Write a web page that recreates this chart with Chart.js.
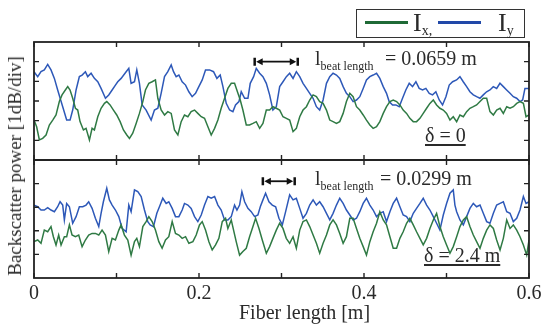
<!DOCTYPE html>
<html>
<head>
<meta charset="utf-8">
<script src="https://cdn.jsdelivr.net/npm/chart.js@4.4.0/dist/chart.umd.min.js"></script>
<style>
  body { margin: 0; background: #fff; }
  #wrap { position: relative; width: 543px; height: 324px; font-family: "Liberation Serif", "Times New Roman", serif; color: #2a2a2a; }
  canvas { position: absolute; left: 0; top: 0; }
  .t { position: absolute; font-size: 20px; line-height: 20px; white-space: nowrap; }
  .sub { font-size: 12px; position: relative; top: 5px; }
  .u { text-decoration: underline; text-underline-offset: 2px; }
  .leg { position: absolute; font-size: 26px; line-height: 26px; white-space: nowrap; }
  .leg .s { font-size: 14px; position: relative; top: 4px; }
  .swatch { position: absolute; height: 3px; width: 43px; }
</style>
</head>
<body>
<div id="wrap">
  <canvas id="topChart" width="543" height="324"></canvas>
  <canvas id="botChart" width="543" height="324"></canvas>

  <div class="t" style="left:15px; top:166px; font-size:19px; transform: translate(-50%,-50%) rotate(-90deg);">Backscatter power [1dB/div]</div>
  <div class="t" style="left:239px; top:302px;">Fiber length [m]</div>

  <div style="position:absolute; left:356px; top:9px; width:169px; height:29px; border:1px solid #333; box-sizing:border-box;"></div>
  <div class="swatch" style="left:365px; top:21px; background:#1f6a36;"></div>
  <div class="leg" style="left:413px; top:10px;">I<span class="s">x,</span></div>
  <div class="swatch" style="left:438px; top:21px; background:#2148a8;"></div>
  <div class="leg" style="left:498px; top:10px;">I<span class="s">y</span></div>

  <div class="t" style="left:315px; top:48px;">l<span class="sub">beat length</span></div>
  <div class="t" style="left:385px; top:48px;">= 0.0659 m</div>
  <div class="t u" style="left:425px; top:125px;">δ = 0</div>

  <div class="t" style="left:315px; top:168px;">l<span class="sub">beat length</span></div>
  <div class="t" style="left:380px; top:168px;">= 0.0299 m</div>
  <div class="t u" style="left:424px; top:245px;">δ = 2.4 m</div>
</div>

<script>
// fiber position [m], backscatter power [div]
const topBlue = [[0.000,4.49],[0.0045,4.24],[0.0085,4.49],[0.0125,4.58],[0.0166,4.86],[0.0206,4.58],[0.0247,4.15],[0.0287,3.56],[0.0348,2.71],[0.0396,2.03],[0.0437,2.03],[0.0469,2.54],[0.0510,3.56],[0.0550,4.24],[0.0583,4.32],[0.0623,4.49],[0.0651,4.24],[0.0692,4.41],[0.0732,4.15],[0.0773,3.98],[0.0813,3.64],[0.0866,3.14],[0.0906,3.31],[0.0947,3.56],[0.0987,3.81],[0.1015,3.98],[0.1056,4.15],[0.1117,4.49],[0.1149,4.66],[0.1177,3.90],[0.1218,3.98],[0.1246,4.58],[0.1278,3.90],[0.1311,2.80],[0.1359,2.54],[0.1420,2.03],[0.1460,2.54],[0.1501,2.63],[0.1541,3.39],[0.1582,4.24],[0.1622,4.49],[0.1663,4.83],[0.1691,4.49],[0.1723,4.24],[0.1756,4.32],[0.1796,3.98],[0.1837,3.81],[0.1877,3.47],[0.1917,3.22],[0.1958,3.39],[0.1998,3.73],[0.2039,4.07],[0.2079,4.58],[0.2128,4.58],[0.2176,4.49],[0.2217,4.15],[0.2257,4.32],[0.2290,3.73],[0.2330,2.88],[0.2371,2.54],[0.2411,2.46],[0.2443,2.80],[0.2484,2.97],[0.2512,3.47],[0.2553,3.14],[0.2593,3.14],[0.2621,3.90],[0.2662,4.24],[0.2694,4.66],[0.2735,4.41],[0.2775,4.24],[0.2816,3.90],[0.2856,3.31],[0.2896,2.54],[0.2937,2.71],[0.2978,3.73],[0.3018,3.98],[0.3059,4.24],[0.3099,4.41],[0.3140,4.15],[0.3180,4.49],[0.3221,4.24],[0.3261,3.90],[0.3302,3.64],[0.3342,3.39],[0.3383,3.14],[0.3423,2.71],[0.3463,2.54],[0.3504,3.05],[0.3545,3.90],[0.3585,4.24],[0.3625,4.41],[0.3666,4.32],[0.3706,4.15],[0.3747,3.73],[0.3787,3.39],[0.3828,3.22],[0.3868,2.97],[0.3909,3.05],[0.3949,3.22],[0.3990,3.64],[0.4030,4.07],[0.4071,4.24],[0.4111,4.32],[0.4152,4.41],[0.4192,4.15],[0.4233,3.73],[0.4273,3.39],[0.4305,2.97],[0.4346,2.80],[0.4386,2.80],[0.4427,2.71],[0.4467,3.14],[0.4507,3.56],[0.4548,3.90],[0.4588,3.73],[0.4629,3.98],[0.4669,3.64],[0.4710,3.56],[0.4750,3.64],[0.4791,3.39],[0.4831,3.31],[0.4871,3.47],[0.4912,3.05],[0.4952,2.80],[0.4993,3.22],[0.5033,3.81],[0.5074,3.98],[0.5122,4.07],[0.5163,4.24],[0.5203,3.98],[0.5244,3.73],[0.5284,3.47],[0.5325,3.31],[0.5365,3.22],[0.5405,3.14],[0.5446,3.31],[0.5486,3.47],[0.5527,3.56],[0.5567,3.73],[0.5608,3.64],[0.5648,3.90],[0.5689,3.73],[0.5729,3.56],[0.5770,3.39],[0.5810,3.22],[0.5850,3.14],[0.5891,2.97],[0.5923,3.05],[0.5951,3.64],[0.6000,3.64]];

const topGreen = [[0.000,2.03],[0.0032,1.69],[0.0065,1.02],[0.0105,1.10],[0.0146,1.27],[0.0186,1.78],[0.0227,2.03],[0.0267,2.29],[0.0307,2.97],[0.0340,3.31],[0.0380,3.56],[0.0409,3.73],[0.0437,3.56],[0.0469,3.14],[0.0502,2.63],[0.0530,2.54],[0.0558,1.95],[0.0599,1.53],[0.0631,1.61],[0.0672,1.02],[0.0704,1.61],[0.0732,1.53],[0.0773,2.20],[0.0813,2.63],[0.0854,2.88],[0.0882,2.97],[0.0922,2.80],[0.0963,2.54],[0.1003,2.29],[0.1044,1.95],[0.1084,1.53],[0.1125,1.27],[0.1157,1.10],[0.1197,1.36],[0.1238,1.86],[0.1278,2.37],[0.1319,2.97],[0.1351,3.56],[0.1392,3.90],[0.1432,3.98],[0.1472,4.07],[0.1501,3.14],[0.1541,2.54],[0.1582,2.29],[0.1622,2.46],[0.1663,2.37],[0.1703,1.53],[0.1744,1.27],[0.1784,1.95],[0.1824,2.29],[0.1865,2.20],[0.1905,2.46],[0.1946,2.54],[0.1986,2.37],[0.2027,2.20],[0.2067,2.12],[0.2108,1.69],[0.2148,1.27],[0.2189,1.61],[0.2229,2.03],[0.2269,2.63],[0.2310,3.14],[0.2350,3.64],[0.2391,3.90],[0.2431,3.90],[0.2472,3.39],[0.2500,3.05],[0.2532,2.54],[0.2573,1.78],[0.2613,1.78],[0.2654,1.86],[0.2694,1.95],[0.2735,1.61],[0.2775,1.86],[0.2816,2.54],[0.2856,2.54],[0.2896,2.71],[0.2937,2.63],[0.2978,2.54],[0.3018,2.20],[0.3059,2.12],[0.3099,2.03],[0.3140,1.44],[0.3180,1.61],[0.3221,2.20],[0.3261,2.54],[0.3302,2.71],[0.3342,3.05],[0.3383,3.31],[0.3423,3.22],[0.3463,2.97],[0.3504,2.88],[0.3545,2.54],[0.3585,2.03],[0.3625,1.95],[0.3666,1.86],[0.3706,1.95],[0.3747,2.37],[0.3787,2.97],[0.3828,3.39],[0.3868,3.22],[0.3909,2.71],[0.3949,2.54],[0.3990,2.29],[0.4030,2.03],[0.4071,1.78],[0.4111,1.61],[0.4152,1.69],[0.4192,1.95],[0.4233,2.37],[0.4273,2.71],[0.4314,2.97],[0.4354,3.05],[0.4395,2.97],[0.4435,2.80],[0.4475,2.54],[0.4516,2.37],[0.4556,2.12],[0.4597,1.95],[0.4637,1.95],[0.4678,2.12],[0.4718,2.37],[0.4759,2.63],[0.4799,2.88],[0.4840,3.05],[0.4880,2.80],[0.4920,2.63],[0.4961,2.54],[0.5001,2.37],[0.5042,2.03],[0.5082,2.20],[0.5123,1.95],[0.5163,2.29],[0.5204,2.20],[0.5244,2.46],[0.5284,2.63],[0.5325,2.71],[0.5365,2.80],[0.5406,2.97],[0.5446,3.14],[0.5487,3.14],[0.5527,2.46],[0.5568,2.29],[0.5608,2.54],[0.5649,2.63],[0.5689,2.37],[0.5730,2.71],[0.5770,2.63],[0.5810,2.71],[0.5851,2.88],[0.5891,2.97],[0.5932,2.88],[0.5964,2.20],[0.6000,2.29]];

const botBlue = [[0.000,3.09],[0.0045,3.02],[0.0085,2.88],[0.0125,2.88],[0.0166,2.98],[0.0206,2.88],[0.0247,2.81],[0.0287,3.02],[0.0316,3.23],[0.0348,3.09],[0.0368,2.46],[0.0396,3.16],[0.0429,3.02],[0.0469,2.32],[0.0510,2.60],[0.0550,3.02],[0.0591,3.02],[0.0631,3.09],[0.0663,3.23],[0.0704,2.95],[0.0744,2.53],[0.0785,2.18],[0.0813,2.74],[0.0841,3.23],[0.0882,3.80],[0.0914,3.31],[0.0947,3.09],[0.0987,2.88],[0.1028,2.60],[0.1068,2.10],[0.1117,1.96],[0.1149,3.09],[0.1177,2.81],[0.1218,3.73],[0.1258,3.66],[0.1299,3.45],[0.1339,2.88],[0.1379,2.39],[0.1408,2.25],[0.1448,2.18],[0.1489,2.74],[0.1529,3.09],[0.1561,3.38],[0.1602,3.16],[0.1634,3.23],[0.1675,2.95],[0.1715,2.60],[0.1756,2.60],[0.1796,2.88],[0.1824,3.16],[0.1865,3.09],[0.1905,2.95],[0.1946,2.60],[0.1986,2.39],[0.2027,2.67],[0.2067,3.09],[0.2108,3.45],[0.2148,3.38],[0.2189,3.45],[0.2229,3.09],[0.2269,2.88],[0.2310,2.46],[0.2350,2.46],[0.2391,2.60],[0.2431,3.09],[0.2460,2.88],[0.2492,3.09],[0.2520,3.66],[0.2553,3.23],[0.2593,2.95],[0.2633,2.81],[0.2674,2.60],[0.2714,2.67],[0.2743,3.02],[0.2775,3.31],[0.2807,3.59],[0.2848,3.23],[0.2888,3.09],[0.2929,3.02],[0.2969,2.53],[0.3010,2.25],[0.3050,2.81],[0.3099,3.52],[0.3140,3.31],[0.3180,3.38],[0.3221,2.95],[0.3261,2.53],[0.3302,2.74],[0.3342,3.09],[0.3383,3.31],[0.3423,3.09],[0.3463,3.23],[0.3504,3.02],[0.3545,2.74],[0.3585,2.46],[0.3625,2.74],[0.3666,3.09],[0.3706,3.38],[0.3747,3.16],[0.3787,2.88],[0.3828,2.67],[0.3868,2.46],[0.3909,2.53],[0.3949,2.81],[0.3990,3.16],[0.4030,3.38],[0.4071,3.09],[0.4111,2.88],[0.4152,2.60],[0.4192,2.74],[0.4233,2.81],[0.4273,2.39],[0.4314,2.81],[0.4354,3.16],[0.4395,3.38],[0.4435,3.02],[0.4475,2.67],[0.4516,2.60],[0.4556,2.39],[0.4597,2.74],[0.4637,2.95],[0.4678,3.16],[0.4718,3.38],[0.4759,3.09],[0.4799,2.88],[0.4840,2.60],[0.4880,2.32],[0.4920,2.03],[0.4961,2.67],[0.5001,3.16],[0.5042,3.59],[0.5082,3.73],[0.5102,3.09],[0.5123,2.81],[0.5163,2.46],[0.5204,2.25],[0.5244,2.60],[0.5284,2.95],[0.5325,3.16],[0.5365,3.02],[0.5406,3.09],[0.5446,2.74],[0.5487,2.39],[0.5527,2.32],[0.5568,2.74],[0.5608,3.09],[0.5649,3.16],[0.5689,3.23],[0.5730,2.81],[0.5770,2.74],[0.5810,2.39],[0.5851,2.53],[0.5891,2.88],[0.5932,3.45],[0.5964,3.16],[0.6000,3.23]];

const botGreen = [[0.000,1.54],[0.0045,1.61],[0.0085,1.47],[0.0125,2.03],[0.0166,1.96],[0.0206,2.18],[0.0235,1.75],[0.0267,1.40],[0.0299,1.82],[0.0328,1.40],[0.0368,1.75],[0.0396,1.75],[0.0429,2.25],[0.0461,1.82],[0.0502,1.75],[0.0542,1.82],[0.0583,1.33],[0.0623,1.61],[0.0663,1.82],[0.0704,1.89],[0.0744,1.89],[0.0785,1.82],[0.0825,2.03],[0.0866,1.82],[0.0906,1.12],[0.0947,1.68],[0.0987,1.61],[0.1028,2.03],[0.1056,2.25],[0.1096,1.82],[0.1137,1.61],[0.1177,0.97],[0.1218,1.54],[0.1246,1.68],[0.1278,1.33],[0.1319,2.18],[0.1359,2.39],[0.1392,2.60],[0.1432,2.39],[0.1472,2.03],[0.1513,1.54],[0.1553,1.26],[0.1594,1.61],[0.1634,1.75],[0.1675,2.39],[0.1715,1.89],[0.1756,1.82],[0.1796,1.68],[0.1837,1.75],[0.1877,1.47],[0.1926,1.54],[0.1966,1.82],[0.2006,2.25],[0.2039,2.39],[0.2079,2.03],[0.2120,1.54],[0.2160,1.19],[0.2201,1.40],[0.2241,1.68],[0.2282,2.39],[0.2322,2.53],[0.2350,2.10],[0.2391,2.46],[0.2419,2.03],[0.2451,1.54],[0.2492,0.97],[0.2532,1.12],[0.2573,1.26],[0.2613,1.75],[0.2654,2.18],[0.2686,2.53],[0.2727,2.10],[0.2767,1.61],[0.2816,1.05],[0.2856,1.33],[0.2896,1.68],[0.2937,2.03],[0.2977,2.32],[0.3018,2.10],[0.3058,1.68],[0.3099,1.47],[0.3140,1.75],[0.3180,1.26],[0.3221,2.03],[0.3261,2.39],[0.3302,2.46],[0.3342,2.18],[0.3383,1.82],[0.3423,1.47],[0.3463,1.05],[0.3504,1.47],[0.3545,1.82],[0.3585,2.25],[0.3625,2.46],[0.3666,2.25],[0.3706,1.89],[0.3747,1.47],[0.3787,1.75],[0.3828,2.53],[0.3868,2.53],[0.3909,2.10],[0.3949,1.68],[0.3990,1.33],[0.4030,0.97],[0.4071,1.54],[0.4111,1.96],[0.4152,2.32],[0.4192,2.81],[0.4233,2.46],[0.4273,2.25],[0.4314,1.75],[0.4354,1.26],[0.4395,1.26],[0.4435,1.68],[0.4475,1.96],[0.4516,2.32],[0.4556,2.53],[0.4597,2.25],[0.4637,1.96],[0.4678,1.68],[0.4718,1.40],[0.4759,1.68],[0.4799,2.10],[0.4840,2.46],[0.4880,2.74],[0.4920,2.18],[0.4961,1.75],[0.5001,1.40],[0.5042,1.05],[0.5082,1.33],[0.5123,1.75],[0.5163,2.18],[0.5204,2.46],[0.5244,2.60],[0.5284,2.18],[0.5325,1.82],[0.5365,1.54],[0.5406,1.26],[0.5446,1.68],[0.5487,2.03],[0.5527,2.25],[0.5568,2.10],[0.5608,1.61],[0.5649,1.19],[0.5689,1.68],[0.5730,2.46],[0.5770,2.10],[0.5810,2.25],[0.5851,2.03],[0.5891,1.75],[0.5932,1.40],[0.5972,0.97],[0.6000,1.61]];

const xTicks = [0, 0.1, 0.2, 0.3, 0.4, 0.5, 0.6];
const xLabelValues = [0, 0.2, 0.4, 0.6];
const xLabels = ['0', '0.2', '0.4', '0.6'];
const topYTicks = [1, 2, 3, 4, 5];
const botYTicks = [1, 2, 3, 4];

// beat length markers: [start, end, height]
const topArrow = [0.2675, 0.3197, 5.0];
const botArrow = [0.2774, 0.3160, 4.1];

const green = '#2f7a44';
const blue = '#2d58b8';

function toPoints(arr) {
    return arr.map(p => ({ x: p[0], y: p[1] }));
}

function drawArrow(ctx, x1, x2, y) {
    ctx.strokeStyle = '#111';
    ctx.fillStyle = '#111';
    ctx.lineWidth = 2.5;
    ctx.beginPath();
    ctx.moveTo(x1, y - 4); ctx.lineTo(x1, y + 4);
    ctx.moveTo(x2, y - 4); ctx.lineTo(x2, y + 4);
    ctx.stroke();
    ctx.lineWidth = 1.8;
    ctx.beginPath();
    ctx.moveTo(x1 + 4, y); ctx.lineTo(x2 - 4, y);
    ctx.stroke();
    ctx.beginPath();
    ctx.moveTo(x1 + 1.5, y); ctx.lineTo(x1 + 8, y - 3.5); ctx.lineTo(x1 + 8, y + 3.5); ctx.closePath();
    ctx.moveTo(x2 - 1.5, y); ctx.lineTo(x2 - 8, y - 3.5); ctx.lineTo(x2 - 8, y + 3.5); ctx.closePath();
    ctx.fill();
}

const framePlugin = {
    id: 'frame',
    afterDatasetsDraw(chart, args, opts) {
        const { ctx, chartArea: a, scales } = chart;
        ctx.save();
        ctx.strokeStyle = '#222';
        ctx.lineWidth = 1.8;
        ctx.strokeRect(a.left, a.top, a.right - a.left, a.bottom - a.top);

        ctx.lineWidth = 1.4;
        ctx.beginPath();
        xTicks.forEach(v => {
            const px = scales.x.getPixelForValue(v);
            ctx.moveTo(px, a.top); ctx.lineTo(px, a.top + 5);
            ctx.moveTo(px, a.bottom); ctx.lineTo(px, a.bottom - 5);
        });
        opts.yTicks.forEach(v => {
            const py = scales.y.getPixelForValue(v);
            ctx.moveTo(a.left, py); ctx.lineTo(a.left + 5, py);
            ctx.moveTo(a.right, py); ctx.lineTo(a.right - 5, py);
        });
        ctx.stroke();

        if (opts.labels) {
            ctx.fillStyle = '#2a2a2a';
            ctx.font = '20px "Liberation Serif", serif';
            ctx.textAlign = 'center';
            ctx.textBaseline = 'alphabetic';
            xLabelValues.forEach((v, i) => {
                ctx.fillText(xLabels[i], scales.x.getPixelForValue(v), a.bottom + 21);
            });
        }

        const arr = opts.arrow;
        drawArrow(ctx, scales.x.getPixelForValue(arr[0]), scales.x.getPixelForValue(arr[1]), scales.y.getPixelForValue(arr[2]));
        ctx.restore();
    }
};

function makePanel(id, greenData, blueData, yMax, padding, frameOpts) {
    return new Chart(document.getElementById(id), {
        type: 'line',
        data: {
            datasets: [
                { label: 'Ix', data: toPoints(greenData), borderColor: green },
                { label: 'Iy', data: toPoints(blueData), borderColor: blue }
            ]
        },
        options: {
            responsive: false,
            animation: false,
            layout: { padding: padding },
            elements: {
                point: { radius: 0 },
                line: { borderWidth: 1.5, tension: 0, fill: false }
            },
            plugins: {
                legend: { display: false },
                tooltip: { enabled: false },
                frame: frameOpts
            },
            scales: {
                x: { type: 'linear', min: 0, max: 0.6, display: false },
                y: { type: 'linear', min: 0, max: yMax, display: false }
            }
        },
        plugins: [framePlugin]
    });
}

makePanel('topChart', topGreen, topBlue, 6, { left: 34, right: 14, top: 42, bottom: 164 },
    { yTicks: topYTicks, labels: false, arrow: topArrow });
makePanel('botChart', botGreen, botBlue, 5, { left: 34, right: 14, top: 160, bottom: 46 },
    { yTicks: botYTicks, labels: true, arrow: botArrow });
</script>
</body>
</html>
